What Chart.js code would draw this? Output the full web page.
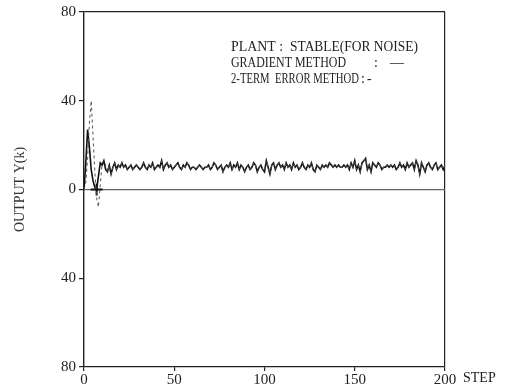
<!DOCTYPE html>
<html>
<head>
<meta charset="utf-8">
<script src="https://cdn.jsdelivr.net/npm/chart.js@4.4.1/dist/chart.umd.min.js"></script>
<style>
  html, body { margin: 0; padding: 0; background: #fff; }
  canvas { display: block; }
</style>
</head>
<body>
<canvas id="plot" width="515" height="391"></canvas>
<script>
"use strict";

// ── data ──
const yTicks = [-80, -40, 0, 40, 80];
const xTicks = [0, 50, 100, 150, 200];

// gradient method, steps 0..200
const gradientY = [
  0, 12, 27, 19, 9, 4, 1, 0, 6, 12, 11,
  13, 9, 8, 11, 7, 10, 12, 9, 11, 10,
  12, 10, 11, 9, 10, 11, 9, 10, 11, 10,
  9, 10, 12, 10, 9, 11, 10, 12, 9, 10,
  11, 10, 13, 9, 11, 12, 10, 11, 9, 10,
  11, 12, 10, 9, 11, 10, 12, 11, 9, 10,
  10, 9, 10, 11, 10, 9, 10, 10, 11, 9,
  10, 12, 11, 9, 10, 11, 8, 10, 11, 10,
  12, 9, 11, 10, 12, 9, 11, 10, 8, 10,
  11, 9, 10, 12, 11, 8, 10, 11, 9, 8,
  13, 10, 7, 11, 12, 9, 11, 12, 10, 11,
  9, 12, 10, 11, 9, 12, 10, 11, 9, 10,
  12, 10, 9, 11, 10, 12, 9, 8, 11, 10,
  9, 11, 10, 11, 10, 12, 11, 10, 11, 10,
  11, 10, 10, 11, 10, 11, 9, 12, 10, 13,
  9, 11, 8, 12, 13, 14, 9, 11, 8, 12,
  11, 10, 12, 11, 9, 10, 10, 11, 10, 11,
  10, 11, 9, 10, 12, 10, 11, 9, 12, 10,
  11, 12, 9, 13, 11, 7, 12, 10, 8, 11,
  12, 10, 9, 11, 12, 9, 10, 11, 9, 11
];

// 2-term error method transient (steps 0..12), afterwards it lies on the gradient trace
const twoTermHead = [0, 3, 14, 30, 40, 24, 8, -4, -8, 2, 12, 13, 11];
const twoTermY = twoTermHead.concat(gradientY.slice(twoTermHead.length));

const crossMark = [{ x: 7, y: 0 }];

const FONT = "'Liberation Serif', 'DejaVu Serif', serif";

const toXY = arr => arr.map((v, i) => ({ x: i, y: v }));

const notes = {
  id: "notes",
  afterDraw(chart) {
    const c = chart.ctx;
    c.save();
    c.fillStyle = "#222";
    c.textBaseline = "middle";
    c.font = "14px " + FONT;
    c.fillText("PLANT :", 231, 47, 52);
    c.fillText("STABLE(FOR NOISE)", 290, 47, 128);
    c.fillText("GRADIENT METHOD", 231, 63, 115);
    c.fillText(":", 374, 63);
    c.fillText("—", 390, 63, 15);
    c.fillText("2-TERM  ERROR METHOD", 231, 79, 128);
    c.fillText(":", 361, 79);
    c.fillText("-", 367, 79);
    c.fillText("STEP", 463, 378, 38);
    c.restore();
  }
};

new Chart(document.getElementById("plot"), {
  type: "line",
  data: {
    datasets: [
      {
        label: "2-term error method",
        data: toXY(twoTermY),
        borderColor: "#555",
        borderWidth: 1,
        borderDash: [3, 3],
        pointRadius: 0,
        tension: 0
      },
      {
        label: "gradient method",
        data: toXY(gradientY),
        borderColor: "#111",
        borderWidth: 1.6,
        pointRadius: 0,
        tension: 0
      },
      {
        type: "scatter",
        label: "mark",
        data: crossMark,
        pointStyle: "cross",
        pointRadius: 6,
        borderColor: "#111",
        borderWidth: 2
      }
    ]
  },
  options: {
    responsive: false,
    devicePixelRatio: 1,
    animation: false,
    layout: { padding: { top: 9, right: 70, left: 0, bottom: 0 } },
    plugins: { legend: { display: false }, tooltip: { enabled: false } },
    scales: {
      x: {
        type: "linear",
        min: 0,
        max: 200,
        afterFit: s => { s.height = 24; },
        afterBuildTicks: s => { s.ticks = xTicks.map(v => ({ value: v })); },
        ticks: { font: { family: FONT, size: 15 }, color: "#222", padding: 0, maxRotation: 0 },
        grid: {
          color: ctx => (ctx.tick && ctx.tick.value === 200 ? "#222" : "transparent"),
          lineWidth: 1.2,
          tickLength: 4,
          tickColor: "#222"
        },
        border: { color: "#222", width: 1.2 }
      },
      y: {
        min: -80,
        max: 80,
        afterFit: s => { s.width = 84; },
        afterBuildTicks: s => { s.ticks = yTicks.map(v => ({ value: v })); },
        ticks: {
          font: { family: FONT, size: 15 },
          color: "#222",
          padding: 3,
          callback: v => Math.abs(v)
        },
        grid: {
          color: ctx => {
            if (!ctx.tick) return "transparent";
            if (ctx.tick.value === 80) return "#222";
            if (ctx.tick.value === 0) return "#666";
            return "transparent";
          },
          lineWidth: 1.2,
          tickLength: 5,
          tickColor: "#222"
        },
        border: { color: "#222", width: 1.4 },
        title: {
          display: true,
          text: "OUTPUT Y(k)",
          font: { family: FONT, size: 14 },
          color: "#333",
          padding: { top: 12, bottom: 0 }
        }
      }
    }
  },
  plugins: [notes]
});
</script>
</body>
</html>
